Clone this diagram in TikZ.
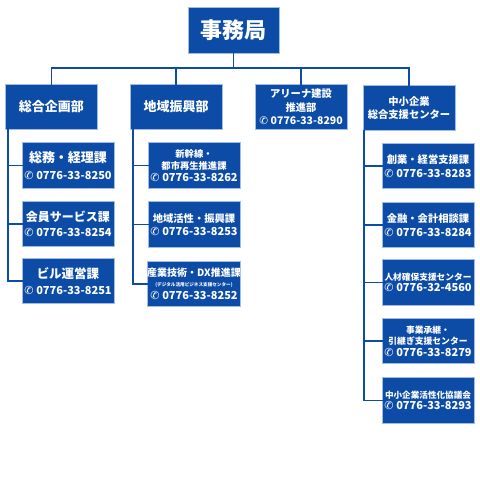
\documentclass[tikz,border=0pt]{standalone}
\usepackage{fontspec}
\setmainfont{Noto Sans CJK JP}
\newfontfamily\symfont{DejaVu Sans}
\newcommand\telicon{{\symfont\mdseries ✆}\hspace{0.25em}}
\definecolor{boxblue}{RGB}{12,76,166}
\definecolor{edgeblue}{RGB}{160,188,228}
\begin{document}
\begin{tikzpicture}[x=1pt,y=-1pt,
  box/.style={fill=boxblue,draw=edgeblue,line width=0.7pt,text=white,font=\bfseries,
    align=center,inner sep=0pt,minimum width=92pt,minimum height=45.5pt},
  link/.style={draw=boxblue,line width=1.8pt,line cap=rect},
  fs/.style={font=\bfseries\fontsize{#1pt}{\dimexpr #1pt*13/10\relax}\selectfont}]
\useasboundingbox[fill=white] (0,0) rectangle (480,480);
% top
\node[box,minimum width=91pt,fs=22] (top) at (233.5,30.5) {事務局};
% level 1
\node[box,fs=13] (a) at (51.5,107) {総合企画部};
\node[box,fs=13] (b) at (176,107) {地域振興部};
\node[box,fs=10.3] (c) at (301,107) {アリーナ建設\\推進部\\{\fontsize{10.5}{13}\selectfont\telicon 0776-33-8290}};
\node[box,fs=10.3] (d) at (409,108) {中小企業\\総合支援センター};
% left column
\node[box,fs=13] (a1) at (68,165.5) {総務・経理課\\{\fontsize{11}{14}\selectfont\telicon 0776-33-8250}};
\node[box,fs=12] (a2) at (68,224) {会員サービス課\\{\fontsize{11}{14}\selectfont\telicon 0776-33-8254}};
\node[box,fs=12.5] (a3) at (68,281) {ビル運営課\\{\fontsize{11}{14}\selectfont\telicon 0776-33-8251}};
% middle column
\node[box,fs=9.3] (b1) at (194,165.5) {新幹線・\\都市再生推進課\\{\fontsize{11}{13}\selectfont\telicon 0776-33-8262}};
\node[box,fs=10.3] (b2) at (194,224.5) {地域活性・振興課\\{\fontsize{11}{14}\selectfont\telicon 0776-33-8253}};
\node[box,fs=10] (b3) at (194,284) {産業技術・DX推進課\\[-3pt]{\fontsize{4.6}{6}\selectfont(デジタル活用ビジネス支援センター)}\\{\fontsize{11}{13}\selectfont\telicon 0776-33-8252}};
% right column
\node[box,fs=10.3] (d1) at (428,166) {創業・経営支援課\\{\fontsize{11}{14}\selectfont\telicon 0776-33-8283}};
\node[box,fs=10.3] (d2) at (428,225) {金融・会計相談課\\{\fontsize{11}{14}\selectfont\telicon 0776-33-8284}};
\node[box,fs=8.7] (d3) at (428,282.5) {人材確保支援センター\\{\fontsize{11}{15}\selectfont\telicon 0776-32-4560}};
\node[box,fs=8.8] (d4) at (428,341) {事業承継・\\引継ぎ支援センター\\{\fontsize{11}{13}\selectfont\telicon 0776-33-8279}};
\node[box,fs=8.6] (d5) at (428,400.5) {中小企業活性化協議会\\{\fontsize{11}{15}\selectfont\telicon 0776-33-8293}};
% connectors level 0-1
\coordinate (hb) at (0,68);
\draw[link] (top.south) -- (top.south|-hb);
\draw[link] (a.north) -- (a.north|-hb) -- (d.north|-hb) -- (d.north);
\draw[link] (b.north) -- (b.north|-hb);
\draw[link] (c.north) -- (c.north|-hb);
% trunks
\coordinate (ta) at (8,130);
\coordinate (tb) at (133,130);
\coordinate (td) at (364,131);
\draw[link] (ta) |- (a3.west);
\draw[link] (ta|-a1.west) -- (a1.west);
\draw[link] (ta|-a2.west) -- (a2.west);
\draw[link] (tb) |- (b3.west);
\draw[link] (tb|-b1.west) -- (b1.west);
\draw[link] (tb|-b2.west) -- (b2.west);
\draw[link] (td) |- (d5.west);
\draw[link] (td|-d1.west) -- (d1.west);
\draw[link] (td|-d2.west) -- (d2.west);
\draw[link] (td|-d3.west) -- (d3.west);
\draw[link] (td|-d4.west) -- (d4.west);
\end{tikzpicture}
\end{document}
